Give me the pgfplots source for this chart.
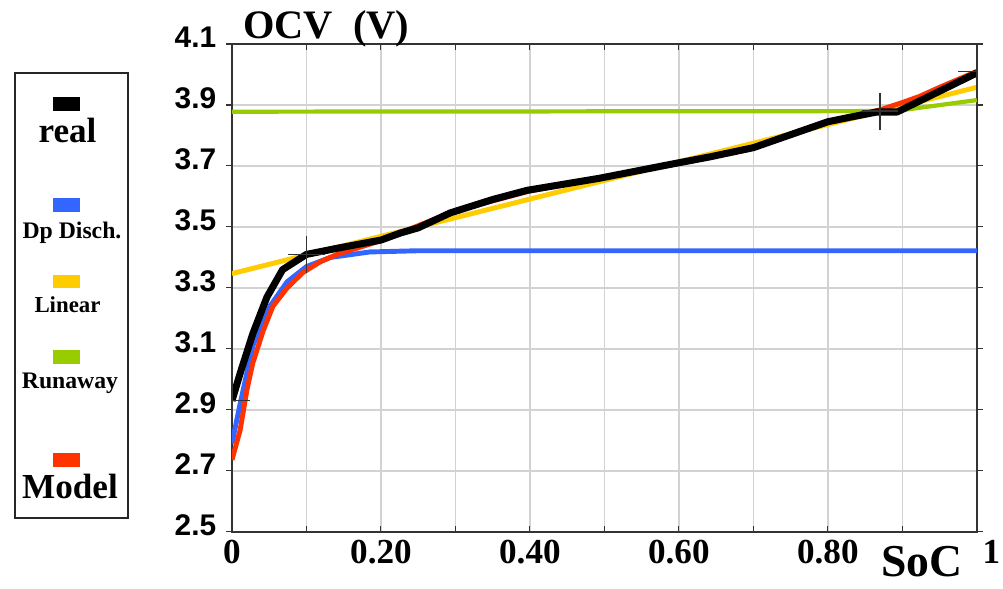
\documentclass[border=0pt]{standalone}
\usepackage{fontspec}
\setmainfont{Liberation Serif}
\newfontfamily\arialb{Liberation Sans}
\usepackage{pgfplots}
\pgfplotsset{compat=1.18}
\definecolor{cdp}{HTML}{3366FF}
\definecolor{clin}{HTML}{FFCC00}
\definecolor{crun}{HTML}{99CC00}
\definecolor{cmod}{HTML}{FF3300}
\begin{document}
\begin{tikzpicture}
% page in pixel units of the reference (1003x588), axis corner at (232,532)
\begin{scope}[xshift=-4.64cm,yshift=10.64cm,x=0.02cm,y=-0.02cm]
\path[use as bounding box] (0,0) rectangle (1003,588);
\end{scope}
\begin{axis}[at={(0,0)},anchor=south west,scale only axis,width=14.9cm,height=9.76cm,
  xmin=0,xmax=1,ymin=2.5,ymax=4.1,
  xtick={0,0.1,0.2,0.3,0.4,0.5,0.6,0.7,0.8,0.9,1},
  xticklabels={0,,0.20,,0.40,,0.60,,0.80,,\makebox[0pt][l]{\raisebox{4pt}{\,1}}},
  ytick={2.5,2.7,2.9,3.1,3.3,3.5,3.7,3.9,4.1},
  yticklabels={2.5,2.7,2.9,3.1,3.3,3.5,3.7,3.9,4.1},
  grid=major,grid style={gray!35,line width=0.9pt},
  axis line style={black!80,line width=0.8pt},
  tick style={black!80,line width=0.6pt},
  major tick length=0.12cm,
  xtick align=inside,ytick align=outside,
  xticklabel style={font=\fontsize{20}{20}\selectfont\bfseries,yshift=-1pt},
  yticklabel style={font=\arialb\fontsize{17}{17}\selectfont\bfseries,yshift=4pt,xshift=-2pt},
]
\addplot[crun,line width=2.4pt] coordinates {(0,3.878) (0.89,3.880) (1,3.916)};
\addplot[clin,line width=2.8pt] coordinates {(0,3.347) (1,3.958)};
\addplot[cdp,line width=2.8pt,line join=round] coordinates {(0,2.79) (0.011,2.92) (0.028,3.11) (0.051,3.24) (0.074,3.32) (0.1,3.37) (0.132,3.40) (0.185,3.418) (0.25,3.422) (1,3.422)};
\addplot[cmod,line width=2.8pt,line join=round] coordinates {(0,2.736) (0.011,2.834) (0.02,2.965) (0.028,3.054) (0.042,3.16) (0.055,3.24) (0.074,3.30) (0.095,3.35) (0.118,3.385) (0.141,3.41) (0.2,3.455) (0.3,3.553) (0.4,3.618) (0.5,3.663) (0.6,3.71) (0.7,3.76) (0.8,3.845) (0.87,3.884) (0.9,3.908) (0.923,3.928) (0.95,3.958) (1,4.01)};
\addplot[black,line width=4pt,line join=round] coordinates {(0,2.93) (0.011,3.02) (0.028,3.15) (0.047,3.27) (0.068,3.36) (0.1,3.41) (0.141,3.43) (0.2,3.457) (0.226,3.48) (0.25,3.497) (0.293,3.546) (0.35,3.59) (0.396,3.62) (0.494,3.66) (0.584,3.703) (0.642,3.73) (0.70,3.76) (0.80,3.845) (0.83,3.86) (0.866,3.877) (0.893,3.877) (1.0,4.005)};
\addplot[only marks,mark=+,mark size=10.5pt,black!80,line width=0.7pt,clip mode=individual] coordinates {(0,2.93) (0.1,3.41) (0.87,3.88) (1,4.01)};
\end{axis}
\begin{scope}[xshift=-4.64cm,yshift=10.64cm,x=0.02cm,y=-0.02cm]
\node[anchor=base west,inner sep=0pt,font=\fontsize{23}{23}\selectfont\bfseries] at (243,39) {OCV\ \ (V)};
\node[anchor=base,inner sep=0pt,font=\fontsize{26}{26}\selectfont\bfseries] at (922,576) {SoC};
% legend
\draw[black!85,line width=0.6pt] (15,73) rectangle (128,518);
\fill[black] (53,97) rectangle (80,111);
\node[anchor=base,inner sep=0pt,font=\fontsize{20}{20}\selectfont\bfseries] at (67.5,143) {real};
\fill[cdp] (53,198) rectangle (80,212);
\node[anchor=base,inner sep=0pt,font=\fontsize{13.5}{14}\selectfont\bfseries] at (72,239) {Dp Disch.};
\fill[clin] (53,275) rectangle (80,288);
\node[anchor=base,inner sep=0pt,font=\fontsize{13}{14}\selectfont\bfseries] at (67.5,313) {Linear};
\fill[crun] (53,350) rectangle (80,364);
\node[anchor=base,inner sep=0pt,font=\fontsize{13.5}{14}\selectfont\bfseries] at (70,389) {Runaway};
\fill[cmod] (53,453) rectangle (80,467);
\node[anchor=base,inner sep=0pt,font=\fontsize{20}{20}\selectfont\bfseries] at (70,499) {Model};
\end{scope}
\end{tikzpicture}
\end{document}
